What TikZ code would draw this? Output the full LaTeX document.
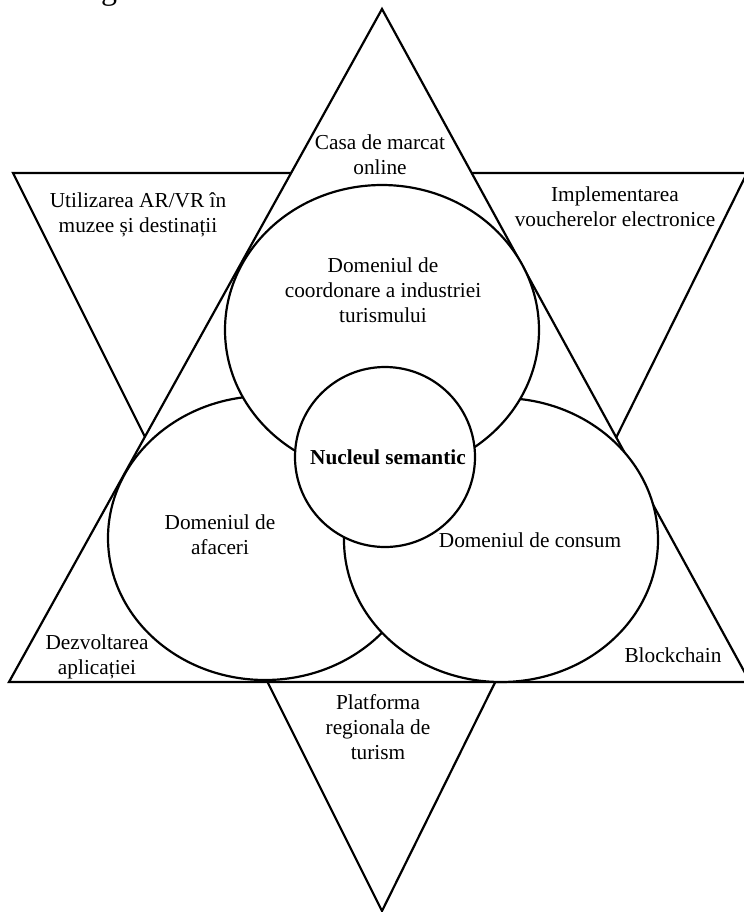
\documentclass[tikz,border=0pt]{standalone}
\usepackage{fontspec}
\setmainfont{Liberation Serif}
\begin{document}
\begin{tikzpicture}[x=0.5pt,y=-0.5pt]
\tikzset{
  frame/.style={draw=black,fill=white,line width=1.1pt,line join=miter},
  zone/.style={draw=black,fill=white,line width=1.1pt},
  lbl/.style={align=center,inner sep=0pt,font=\fontsize{10.65}{12.5}\selectfont}
}
\useasboundingbox (0,0) rectangle (744,912);

% remnant of a heading line above the figure
\node[anchor=base,inner sep=0pt,font=\fontsize{16}{19}\selectfont] (head) at (109,-1) {g};

% the two interlaced triangles of the star: the upward one is painted over the downward one
\draw[frame] (13,173) -- (747,173) -- (382,911) -- cycle;
\draw[frame] (382,9) -- (9,682) -- (750,682) -- cycle;

% overlapping domains, each painted over the previous ones
\draw[zone] (265,538) ellipse [x radius=78.5pt, y radius=71pt];
\draw[zone] (501,540) ellipse [x radius=78.5pt, y radius=71pt];
\draw[zone] (382,330) ellipse [x radius=78.5pt, y radius=72.5pt];
\draw[zone] (385,457) circle [radius=45pt];

% labels in the star points
\node[lbl] (casa) at (380,155) {Casa de marcat\\online};
\node[lbl] (arvr) at (138,215) {Utilizarea AR/VR în\\muzee și destinații};
\node[lbl] (vouch) at (615,207) {Implementarea\\voucherelor electronice};
\node[lbl] (dezv) at (97,657) {Dezvoltarea\\aplicației};
\node[lbl] (block) at (673,655) {Blockchain};
\node[lbl] (platf) at (378,727) {Platforma\\regionala de\\turism};

% labels in the domains
\node[lbl] (coord) at (383,290) {Domeniul de\\coordonare a industriei\\turismului};
\node[lbl] (afac) at (220,535) {Domeniul de\\afaceri};
\node[lbl] (cons) at (530,540) {Domeniul de consum};
\node[lbl,font=\fontsize{10.65}{12.5}\selectfont\bfseries] (nucleu) at (388,457) {Nucleul semantic};
\end{tikzpicture}
\end{document}
